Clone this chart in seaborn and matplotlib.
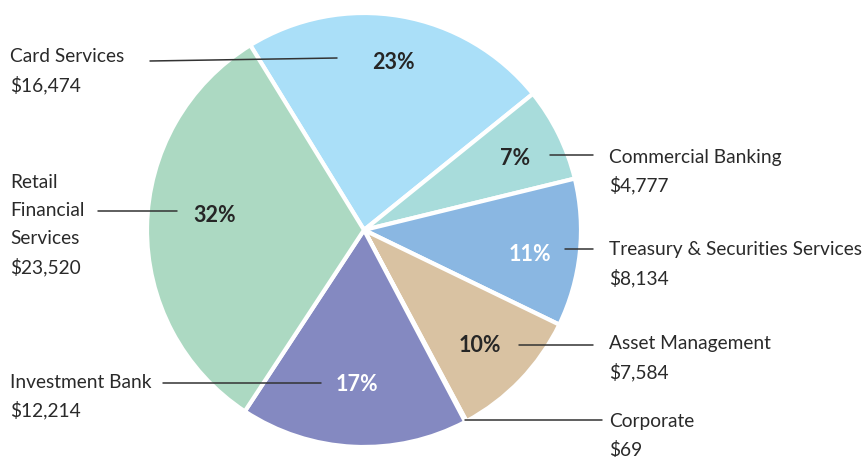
import numpy as np
import matplotlib
matplotlib.use("Agg")
import matplotlib.pyplot as plt
import seaborn as sns

# Net revenue by segment (in millions) and the share shown in the pie (%)
segments = ["Card Services", "Commercial Banking", "Treasury & Securities Services",
            "Asset Management", "Corporate", "Investment Bank", "Retail Financial Services"]
values = [16474, 4777, 8134, 7584, 69, 12214, 23520]
shares = [23, 7, 11, 10, 0.1, 17, 32]
colors = ["#aadff8", "#a8dcdb", "#8ab7e2", "#d9c2a2", "#c8c8c8", "#8489c1", "#acd9c2"]
pct_colors = ["#262626", "#262626", "white", "#262626", "#262626", "white", "#262626"]
pct_radius = [0.79, 0.77, 0.77, 0.75, 0.0, 0.70, 0.69]
pct_nudge = [(0, 1), (1, 3), (0, 7), (-2, 3), (0, 0), (0, 3), (0, -12)]

# label text lines (name split for wrapping) and layout in pixel coords
label_lines = [["Card Services"], ["Commercial Banking"], ["Treasury & Securities Services"],
               ["Asset Management"], ["Corporate"], ["Investment Bank"],
               ["Retail", "Financial", "Services"]]
label_pos = [(10, 57), (609, 157), (609, 250), (609, 344), (609, 421), (10, 382), (10, 182)]
leader_lines = [((150, 61), (337, 58)), ((550, 155), (593, 155)), ((565, 249), (593, 249)),
                ((519, 345), (593, 345)), ((465, 420), (602, 420)), ((163, 383), (321, 383)),
                ((98, 211), (177, 211))]

sns.set_theme(style="white")
plt.rcParams["font.family"] = ["Lato", "DejaVu Sans"]

W, H = 867, 457
fig = plt.figure(figsize=(W / 100, H / 100), dpi=100)
ax = fig.add_axes([0, 0, 1, 1])
ax.set_aspect("equal")
ax.axis("off")

center = (364, 230)
R = 217

def pct_fmt(p):
    return f"{p:.0f}%" if p >= 1 else ""

# y axis is inverted below, so counterclock=True draws clockwise on screen
wedges, texts, autotexts = ax.pie(shares, colors=colors, startangle=-121.6, counterclock=True,
                                  center=center, radius=R, autopct=pct_fmt,
                                  wedgeprops=dict(edgecolor="white", linewidth=3),
                                  textprops=dict(fontsize=15.5, fontweight="bold"))
ax.set_xlim(0, W)
ax.set_ylim(H, 0)

for w, t, c, r, (nx, ny) in zip(wedges, autotexts, pct_colors, pct_radius, pct_nudge):
    mid = np.deg2rad((w.theta1 + w.theta2) / 2)
    t.set_position((center[0] + r * R * np.cos(mid) + nx, center[1] + r * R * np.sin(mid) + ny))
    t.set_color(c)

line_gap = 28.5
for lines, v, (x, y), (p0, p1) in zip(label_lines, values, label_pos, leader_lines):
    for i, s in enumerate(lines + [f"${v:,}"]):
        ax.text(x, y + i * line_gap, s, fontsize=13.8, color="#2a2a2a", ha="left", va="center")
    ax.plot([p0[0], p1[0]], [p0[1], p1[1]], color="#333333", lw=1.1)

fig.savefig("out.png", dpi=100)
